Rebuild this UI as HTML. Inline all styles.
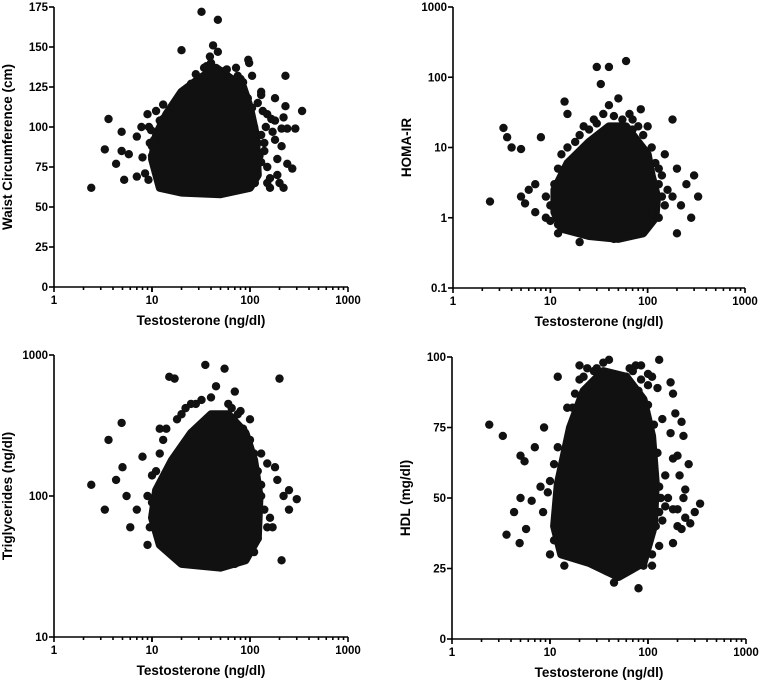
<!DOCTYPE html>
<html><head><meta charset="utf-8"><style>
html,body{margin:0;padding:0;background:#fff}
svg{display:block;font-family:"Liberation Sans",Arial,sans-serif;font-weight:bold}
</style></head><body>
<svg id="c" width="762" height="684" viewBox="0 0 762 684" xmlns="http://www.w3.org/2000/svg"></svg>
<script>
// Panel 1: Waist circumference
const waistCoreX=[12,20,50,100,120,115,100,85,65,45,30,20,14,11,10];
const waistCoreY=[62,59,58,62,70,95,112,125,130,137,130,122,108,95,80];
const waistX=[2.4,3.3,3.6,4.3,4.9,4.9,5.2,5.8,7,7,7.8,8,8.5,9,9.2,9.3,9.8,11,13,20,32,47,42,47,39,40,34,96,98,105,72,80,130,130,120,135,150,165,180,180,230,230,220,210,240,290,340,270,220,160,150,190,210,180,170,140,130,190,240,200,75,25,15,12,
15,16,18,22,25,28,55,62,68,85,90,100,110,120,125,118,112,10,11,12,10,14,13,17,24,36,58,75,95,105,140,150,160,130,145,9.5,10.5,12];
const waistY=[62,86,105,77,97,85,67,83,69,94,100,81,71,108,67,100,98,110,114,148,172,167,151,147,144,140,137,142,140,132,137,130,122,120,115,110,108,105,104,118,132,113,106,99,99,99,110,74,62,62,65,80,88,92,97,90,78,70,77,65,62,60,65,80,
100,108,115,122,127,133,135,130,128,128,120,108,100,90,82,70,65,88,75,70,82,95,105,112,125,138,136,132,118,112,85,75,68,95,100,90,92,104];
// Panel 2: HOMA-IR
const homaCoreX=[13,25,50,90,120,125,110,100,80,60,40,25,15,11,11];
const homaCoreY=[0.7,0.55,0.5,0.6,1,2,4,8,12,20,20,12,6,2.5,1.2];
const homaX=[2.4,3.3,3.6,4,5,5,5.5,6,7,7,8,9,10,12,14,15,22,30,33,40,60,40,50,35,85,70,100,180,150,200,250,300,330,280,200,150,180,130,20,45,120,140,220,
10,11,12,13,15,18,20,25,28,45,55,70,90,110,120,130,140,110,100,160,12,9,14,17,30,65,80,130];
const homaY=[1.7,19,14,10,9.5,2,1.6,2.5,3,1.2,14,1,0.9,0.8,45,30,20,140,80,140,170,40,50,30,35,25,20,25,8,5,3,4,2,1,0.6,1.5,2,1,0.45,0.5,3,4,1.5,
1.5,3,5,8,10,12,15,18,25,28,25,18,15,10,6,3,2,1.2,0.8,2.5,0.6,2,4,7,22,30,20,5];
// Panel 3: Triglycerides
const tgCoreX=[12,20,50,90,120,125,110,90,60,40,25,16,11,10];
const tgCoreY=[45,33,31,35,50,100,180,280,380,380,280,180,110,70];
const tgX=[2.4,3.3,3.6,4.3,4.9,5,5.5,6,7,8,9,9.5,10,12,15,17,25,35,55,45,70,40,80,100,130,150,180,200,210,190,220,250,300,250,160,120,130,170,
10,11,12,13,14,18,20,22,28,32,60,65,75,85,100,110,120,130,140,150,9,15,35,70,110];
const tgY=[120,80,250,130,330,160,100,60,80,190,100,60,140,300,700,680,450,850,800,600,550,500,400,350,200,170,160,680,35,130,100,80,95,110,70,50,100,60,
90,150,200,250,300,350,380,420,450,480,450,420,380,300,250,200,150,120,80,60,45,40,36,33,40];
// Panel 4: HDL
const hdlCoreX=[13,25,50,90,115,120,110,90,60,35,22,16,12,11];
const hdlCoreY=[30,27,22,27,40,55,72,85,93,95,88,75,55,40];
const hdlX=[2.4,3.3,3.6,4.3,4.9,5,5,5.5,5.7,6.5,7,8,8.5,8.7,9.5,10,10,11,12,11,14,20,24,40,45,80,75,85,100,110,130,125,140,170,180,190,170,220,230,260,180,200,210,150,240,230,180,200,240,270,300,340,220,200,180,130,110,90,160,150,130,140,
15,17,18,20,22,28,30,35,50,60,70,80,100,115,125,130,135,120,110,14,13,16,12,12,100,85,65,38];
const hdlY=[76,72,37,45,34,50,65,63,39,49,68,54,45,75,52,56,30,62,93,35,26,97,96,99,20,18,97,97,94,93,99,89,78,91,87,80,73,77,72,62,64,65,58,58,53,50,46,46,43,41,45,48,39,40,34,33,26,26,50,47,45,42,
82,82,87,92,93,95,96,98,91,93,95,88,83,76,66,54,50,40,30,45,60,33,50,68,90,92,96,24];
const xTicks=[1,10,100,1000];
const waistTicks=[0,25,50,75,100,125,150,175];
const homaTicks=[0.1,1,10,100,1000];
const tgTicks=[10,100,1000];
const hdlTicks=[0,25,50,75,100];

const NS="http://www.w3.org/2000/svg";
const svg=document.getElementById('c');
function mk(t,a,p){const e=document.createElementNS(NS,t);for(const k in a)e.setAttribute(k,a[k]);(p||svg).appendChild(e);return e;}

function panel(o){
  const g=mk('g',{});
  
  
  const sx=v=>o.x0+Math.log10(v)*(o.x1-o.x0)/3;
  const sy=o.log?(v=>o.yb-(Math.log10(v)-Math.log10(o.ymin))/(Math.log10(o.ymax)-Math.log10(o.ymin))*(o.yb-o.yt))
                 :(v=>o.yb-(v-o.ymin)/(o.ymax-o.ymin)*(o.yb-o.yt));
  let d='';
  o.cx.forEach((x,i)=>{d+=(i?'L':'M')+sx(x).toFixed(1)+','+sy(o.cy[i]).toFixed(1);});
  const core=mk('path',{d:d+'Z',fill:'#111',stroke:'#111','stroke-width':8,'stroke-linejoin':'round'},g);
  
  
  o.px.forEach((x,i)=>{
    const c=mk('circle',{cx:sx(x),cy:sy(o.py[i]),r:4.2,fill:'#111'},g);
    
    
  });
  const ax=mk('g',{stroke:'#000','stroke-width':1.6,fill:'none'},g);
  
  
  mk('line',{x1:o.x0,y1:o.yt,x2:o.x0,y2:o.yb},ax);
  mk('line',{x1:o.x0,y1:o.yb,x2:o.x1,y2:o.yb},ax);
  for(let dcd=0;dcd<3;dcd++)for(let m=1;m<=10;m++){
    const v=Math.pow(10,dcd)*m;const X=sx(v);
    mk('line',{x1:X,y1:o.yb,x2:X,y2:o.yb+(m==1||m==10?5:3)},ax);
  }
  xTicks.forEach(v=>{
    const t=mk('text',{x:sx(v),y:o.yb+17,'text-anchor':'middle','font-size':11.5},g);
    t.textContent=v;
    
    
  });
  o.yticks.forEach(v=>{
    const Y=sy(v);
    mk('line',{x1:o.x0-5,y1:Y,x2:o.x0,y2:Y},ax);
    const t=mk('text',{x:o.x0-6,y:Y+4,'text-anchor':'end','font-size':11.5},g);
    t.textContent=v;
    
    
  });
  const xt=mk('text',{x:(o.x0+o.x1)/2,y:o.yb+38,'text-anchor':'middle','font-size':13.5},g);
  xt.textContent='Testosterone (ng/dl)';
  
  
  const yt=mk('text',{x:0,y:0,'text-anchor':'middle','font-size':13.5,transform:`translate(${o.ytx},${(o.yt+o.yb)/2}) rotate(-90)`},g);
  yt.textContent=o.ytitle;
  
  
}
panel({name:'waist-panel',x0:54,x1:348,yt:7,yb:287,ymin:0,ymax:175,log:false,yticks:waistTicks,cx:waistCoreX,cy:waistCoreY,px:waistX,py:waistY,ytitle:'Waist Circumference (cm)',ytx:12});
panel({name:'homa-panel',x0:453,x1:745,yt:7,yb:288,ymin:0.1,ymax:1000,log:true,yticks:homaTicks,cx:homaCoreX,cy:homaCoreY,px:homaX,py:homaY,ytitle:'HOMA-IR',ytx:411});
panel({name:'triglycerides-panel',x0:54,x1:348,yt:355,yb:637,ymin:10,ymax:1000,log:true,yticks:tgTicks,cx:tgCoreX,cy:tgCoreY,px:tgX,py:tgY,ytitle:'Triglycerides (ng/dl)',ytx:12});
panel({name:'hdl-panel',x0:452,x1:746,yt:357,yb:639,ymin:0,ymax:100,log:false,yticks:hdlTicks,cx:hdlCoreX,cy:hdlCoreY,px:hdlX,py:hdlY,ytitle:'HDL (mg/dl)',ytx:410});
</script>
</body></html>
